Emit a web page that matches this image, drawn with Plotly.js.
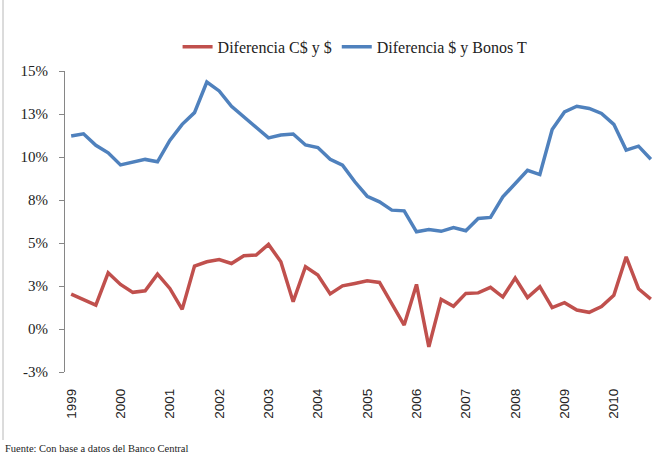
<!DOCTYPE html>
<html>
<head>
<meta charset="utf-8">
<script src="https://cdn.plot.ly/plotly-3.0.1.min.js"></script>
<style>html,body{margin:0;padding:0;background:#fff;}#chart{width:662px;height:456px;}</style>
</head>
<body>
<div id="chart"></div>
<script>
// Quarterly observations 1999Q1 .. 2010Q4 (48 quarters)
var years = ["1999","2000","2001","2002","2003","2004","2005","2006","2007","2008","2009","2010"];
var seriesNames = ["Diferencia C$ y $", "Diferencia $ y Bonos T"];
var difCordobaDolar = [2.03,1.72,1.39,3.27,2.59,2.13,2.22,3.19,2.36,1.14,3.66,3.91,
                       4.04,3.81,4.26,4.30,4.92,3.91,1.59,3.62,3.14,2.04,2.51,2.65,
                       2.80,2.71,1.49,0.23,2.59,-1.04,1.72,1.32,2.07,2.10,2.42,1.86,
                       2.96,1.83,2.46,1.24,1.53,1.10,0.97,1.30,1.96,4.20,2.34,1.74];
var difDolarBonos =   [11.22,11.35,10.68,10.24,9.54,9.70,9.86,9.72,10.96,11.90,12.58,14.36,
                       13.84,12.95,12.33,11.71,11.11,11.28,11.34,10.70,10.55,9.87,9.52,8.56,
                       7.72,7.39,6.91,6.87,5.65,5.79,5.68,5.90,5.71,6.43,6.49,7.68,
                       8.46,9.23,8.98,11.60,12.62,12.95,12.82,12.53,11.90,10.40,10.63,9.87];
var yTickVals = [-2.5,0,2.5,5,7.5,10,12.5,15];
var yTickText = ["-3%","0%","3%","5%","8%","10%","13%","15%"];
var sourceText = "Fuente: Con base a datos del Banco Central";

var quarterIdx = difCordobaDolar.map(function(_, i){ return i; });
var yearIdx = years.map(function(_, i){ return i * 4; });
var boundaries = [];
for (var b = 0; b <= quarterIdx.length; b++) boundaries.push(b - 0.5);

var serif = "Liberation Serif, Times New Roman, serif";
var traces = [
  {x: quarterIdx, y: difCordobaDolar, name: seriesNames[0], type: "scatter", mode: "lines",
   line: {color: "#C0504D", width: 3.5}},
  {x: quarterIdx, y: difDolarBonos, name: seriesNames[1], type: "scatter", mode: "lines",
   line: {color: "#4F81BD", width: 3.5}}
];
var yr = [-2.5, 15];
var layout = {
  width: 662, height: 456,
  margin: {l: 65, r: 5, t: 71, b: 84},
  paper_bgcolor: "#fff", plot_bgcolor: "#fff",
  showlegend: true,
  legend: {orientation: "h", x: 0.49, xanchor: "center", y: 1.08, yanchor: "middle",
           font: {family: serif, size: 16, color: "#222"}, itemwidth: 30, traceorder: "normal"},
  xaxis: {range: [-0.5, quarterIdx.length - 0.5], tickmode: "array", tickvals: yearIdx, ticktext: years,
          tickangle: -90, showline: false, showgrid: false, zeroline: false, ticks: "",
          ticklabelstandoff: 13,
          tickfont: {family: "Liberation Sans, Arial, sans-serif", size: 13.5, color: "#222"}},
  xaxis2: {range: [-0.5, quarterIdx.length - 0.5], overlaying: "x", anchor: "free",
           position: (0 - yr[0]) / (yr[1] - yr[0]), side: "bottom",
           tickmode: "array", tickvals: boundaries, showticklabels: false,
           ticks: "outside", ticklen: 5, tickcolor: "#868686", tickwidth: 1,
           showline: true, linecolor: "#868686", linewidth: 1, showgrid: false, zeroline: false},
  yaxis: {range: yr, tickmode: "array", tickvals: yTickVals, ticktext: yTickText,
          showline: true, linecolor: "#868686", linewidth: 1, ticks: "outside", ticklen: 5,
          tickcolor: "#868686", showgrid: false, zeroline: false, ticklabelstandoff: 8,
          tickfont: {family: serif, size: 15, color: "#222"}},
  shapes: [{type: "line", xref: "paper", yref: "paper", x0: -0.1047, x1: -0.1047,
            y0: 1.24, y1: -0.226, line: {color: "#d0d0d0", width: 1.5}}],
  annotations: [{text: sourceText, xref: "paper", yref: "paper", x: -0.105, y: -0.255,
                 xanchor: "left", yanchor: "middle", showarrow: false,
                 font: {family: serif, size: 10.5, color: "#222"}}]
};
Plotly.newPlot("chart", traces, layout, {displayModeBar: false, staticPlot: true});
</script>
</body>
</html>
